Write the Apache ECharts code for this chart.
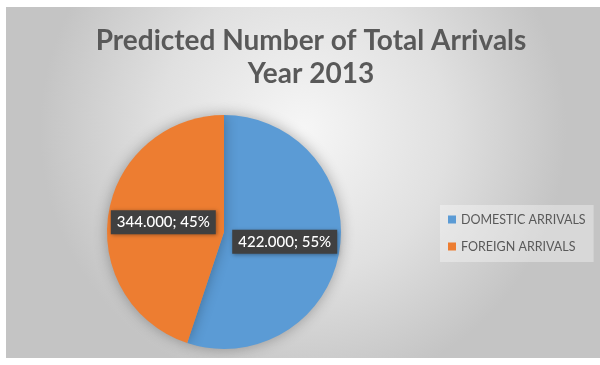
<!DOCTYPE html>
<html>
<head>
<meta charset="utf-8">
<script src="https://cdn.jsdelivr.net/npm/echarts@6/dist/echarts.min.js"></script>
<style>
  html, body { margin: 0; padding: 0; background: #ffffff; }
  #chart { position: absolute; left: 6px; top: 7px; width: 594px; height: 351px; }
</style>
</head>
<body>
<div id="chart"></div>
<script>
// Predicted arrivals for 2013
const categories = ['DOMESTIC ARRIVALS', 'FOREIGN ARRIVALS'];
const arrivals = [422000, 344000];
const sliceColors = ['#5B9BD5', '#ED7D31'];

// thousands grouped with a dot: 422000 -> "422.000"
function groupThousands(v) {
  return String(v).replace(/\B(?=(\d{3})+(?!\d))/g, '.');
}

const chart = echarts.init(document.getElementById('chart'), null, { renderer: 'canvas' });

chart.setOption({
  animation: false,
  backgroundColor: {
    type: 'radial', x: 0.5, y: 0.35, r: 0.75,
    colorStops: [
      { offset: 0, color: '#f6f6f6' },
      { offset: 0.55, color: '#e0e0e0' },
      { offset: 1, color: '#c4c4c4' }
    ]
  },
  title: {
    text: 'Predicted Number of Total Arrivals\nYear 2013',
    left: 300,
    textAlign: 'center',
    top: 12,
    textStyle: {
      fontFamily: 'Lato',
      fontWeight: 'bold',
      fontSize: 28,
      lineHeight: 33,
      color: '#595959'
    }
  },
  legend: {
    orient: 'vertical',
    left: 434,
    top: 198,
    padding: [8, 8, 9, 8],
    itemGap: 14,
    itemWidth: 8,
    itemHeight: 8,
    icon: 'rect',
    backgroundColor: 'rgba(255,255,255,0.35)',
    textStyle: { fontFamily: 'Lato', fontSize: 12.5, color: '#595959' },
    data: categories
  },
  series: [{
    type: 'pie',
    center: [218, 225],
    radius: 117,
    startAngle: 90,
    clockwise: true,
    avoidLabelOverlap: false,
    itemStyle: {
      shadowBlur: 14,
      shadowColor: 'rgba(0,0,0,0.3)'
    },
    label: {
      show: true,
      position: 'inside',
      formatter: p => groupThousands(p.value) + '; ' + Math.round(p.percent) + '%',
      fontFamily: 'Lato',
      fontSize: 15,
      fontWeight: 500,
      color: '#ffffff',
      backgroundColor: '#404040',
      padding: [5, 6, 4, 6],
      shadowBlur: 4,
      shadowColor: 'rgba(0,0,0,0.35)',
      shadowOffsetX: 1,
      shadowOffsetY: 1
    },
    labelLine: { show: false },
    data: categories.map((name, i) => ({
      name: name,
      value: arrivals[i],
      itemStyle: { color: sliceColors[i] }
    }))
  }]
});
</script>
</body>
</html>
